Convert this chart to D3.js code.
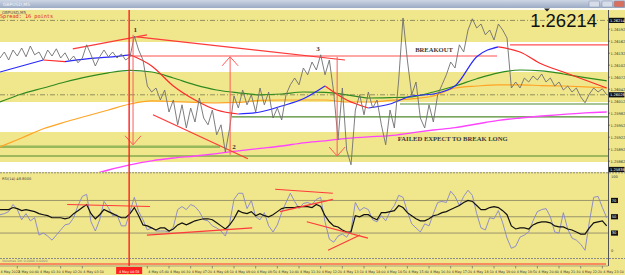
<!DOCTYPE html>
<html><head><meta charset="utf-8">
<script src="https://cdn.jsdelivr.net/npm/d3@7"></script>
<style>body{margin:0;background:#fff}svg{display:block}</style>
</head><body>
<script>
// ---------- DATA ----------
// GBPUSD M5 closes, sampled every 10 minutes from 4 May 00:00
const closeStep = 10;
const close = [
1.26120,1.26135,1.26115,1.26140,1.26125,1.26145,1.26123,1.26150,1.26128,1.26135,
1.26115,1.26140,1.26125,1.26143,1.26120,1.26133,1.26113,1.26125,1.26108,1.26120,
1.26153,1.26128,1.26100,1.26123,1.26140,1.26123,1.26135,1.26120,1.26130,1.26115,
1.26123,1.26175,1.26140,1.26115,1.26050,1.26035,1.26045,1.26015,1.26040,1.25985,
1.26015,1.25953,1.26003,1.25945,1.25995,1.25960,1.26020,1.25970,1.25953,1.25990,
1.25928,1.25953,1.25885,1.25945,1.26025,1.25995,1.26040,1.26003,1.26028,1.25985,
1.26045,1.26003,1.26035,1.25970,1.25995,1.25965,1.26028,1.26053,1.26070,1.26053,
1.26095,1.26078,1.26110,1.26090,1.26128,1.26078,1.26115,1.26035,1.25915,1.26045,
1.25890,1.25853,1.25990,1.26028,1.25978,1.26035,1.25995,1.26015,1.25953,1.25903,
1.25990,1.25945,1.26065,1.26220,1.26115,1.26028,1.26060,1.25970,1.25945,1.26003,
1.25960,1.26028,1.26053,1.26078,1.26110,1.26095,1.26153,1.26135,1.26190,1.26218,
1.26195,1.26205,1.26178,1.26190,1.26165,1.26205,1.26190,1.26170,1.26045,1.26060,
1.26045,1.26070,1.26060,1.26075,1.26065,1.26080,1.26060,1.26070,1.26050,1.26060,
1.26040,1.26050,1.26035,1.26045,1.26023,1.26008,1.26030,1.26045,1.26035,1.26043,
1.26028];
// moving averages sampled every 50 minutes from 00:00
const maStep = 50;
const maFast = [1.26085,1.26100,1.26115,1.26111,1.26118,1.26122,1.26128,1.26100,1.26050,1.26015,
1.25990,1.25980,1.25985,1.26000,1.26018,1.26050,1.26015,1.25995,1.26005,1.26025,
1.26030,1.26050,1.26123,1.26148,1.26135,1.26105,1.26085,1.26065,1.26045];
const maGreen = [1.26010,1.26030,1.26045,1.26060,1.26073,1.26083,1.26089,1.26085,1.26070,1.26053,
1.26040,1.26033,1.26028,1.26030,1.26035,1.26034,1.26028,1.26020,1.26021,1.26023,
1.26035,1.26050,1.26068,1.26083,1.26090,1.26088,1.26080,1.26071,1.26063];
const maOrange = [1.25898,1.25920,1.25943,1.25960,1.25975,1.25990,1.26005,1.26013,1.26011,1.26009,
1.26008,1.26009,1.26014,1.26015,1.26015,1.26015,1.26010,1.26010,1.26014,1.26018,
1.26025,1.26045,1.26050,1.26053,1.26053,1.26051,1.26050,1.26048,1.26045];
const maMagenta = [null,null,null,null,1.25825,1.25840,1.25853,1.25863,1.25870,1.25875,
1.25881,1.25888,1.25894,1.25900,1.25908,1.25913,1.25919,1.25923,1.25926,1.25933,
1.25940,1.25946,1.25955,1.25964,1.25970,1.25975,1.25979,1.25983,1.25985];
// RSI (fast, blue) and smoothed (black), every 10 minutes
const rsiFast = [52.5,53.8,56.3,65,58.8,46.3,53.8,45,48.8,27.5,
30,26.3,21.3,27.5,33.8,40,41.3,48.8,63.8,75,
77.5,43.8,32.5,46.3,68.8,61.3,51.3,52.5,38.8,38.8,
56.3,73.8,56.3,46.3,33.8,36.3,32.5,32.5,32.5,31.3,
37.5,58.8,62.5,58.8,65,62.5,56.3,46.3,45,38.8,
36.3,32.5,26.3,42.5,71.3,78.8,78.8,60,70,50,
46.3,55,38.8,31.3,40,55,67.5,78.8,68.8,60,
66.3,67.5,65,71.3,73.8,43.8,22.5,18.8,26.3,28.8,
25,33.8,67.5,57.5,61.3,58.8,46.3,43.8,51.3,45,
56.3,63.8,76.3,73.8,56.3,41.3,36.3,31.3,41.3,38.8,
53.8,67.5,68.8,67.5,81.3,75,63.8,75,82.5,76.3,
53.8,36.3,33.8,48.8,47.5,57.5,42.5,23.8,11.3,13.8,
25,27.5,31.3,45,56.3,58.8,60,50,31.3,30,
55,35,23.8,21.3,16.3,8.8,43.8,73.8,75,61.3,
48.8];
const rsiSlow = [58.8,58.8,58.8,61.3,60,57.5,58.8,57.5,56.3,53.8,
52.5,51.3,48.8,48.8,48.8,47.5,48.8,53.8,57.5,61.3,
65,53.8,47.5,52.5,58.8,56.3,53.8,51.3,48.8,48.8,
53.8,61.3,51.3,40,38.8,36.3,33.8,36.3,36.3,32.5,
35,40,42.5,40,42.5,45,46.3,47.5,47.5,46.3,
42.5,38.8,35,40,47.5,57.5,55,53.8,56.3,51.3,
53.8,51.3,50,52.5,56.3,60,61.3,61.3,61.3,62.5,
62.5,62.5,61.3,65,62.5,51.3,43.8,38.8,37.5,33.8,
31.3,31.3,51.3,50,52.5,52.5,48.8,46.3,55,55,
56.3,57.5,63.8,61.3,55,51.3,47.5,45,45,47.5,
51.3,52.5,55,56.3,58.8,61.3,63.8,67.5,70,68.8,
63.8,58.8,58.8,61.3,62.5,61.3,57.5,52.5,38.8,35,
36.3,36.3,35,40,42.5,43.8,43.8,42.5,38.8,37.5,
37.5,35,33.8,31.3,28.8,28.8,36.3,42.5,43.8,45,
38.8];
const rsiLevels = [70,50,30];
// price axis
const priceTicks = [1.26192,1.26162,1.26132,1.26102,1.26072,1.26042,1.26012,1.25982,1.25952,1.25922,1.25892,1.25862];
const markedPrices = [1.26214,1.26028,1.25838];
// time axis
const timeTicks = ["00:40","01:30","02:20","03:10","05:40","06:30","07:20","08:10","09:00","09:50","10:40","11:30","12:20","13:10","14:00","14:50","15:40","16:30","17:20","18:10","19:00","19:50","20:40","21:30","22:20","23:10"];
// chart objects
const whiteBands = [[1.26160,1.26085],[1.26010,1.25935],[1.25860,1.25780]];
const dashLevels = [1.26214,1.26028];
const greenLevels = [[1.26005,"15:23"],[1.25973,"08:55"],[1.25875,"00:00"]];
const lightGreenLevel = [1.25898,"00:00","08:28"];
const redLevels = [[1.26125,"05:00","19:07"],[1.26153,"19:37","23:23"]];
const redTrends = [[["02:48",1.26143],["05:39",1.26178]],[["05:16",1.26173],["13:16",1.26115]],[["05:53",1.25978],["09:32",1.25868]]];
const arrows = [["05:07",1.26178,1.25903],["08:51",1.25878,1.26123],["12:58",1.26123,1.25875]];
const vLineTime = "04:58";
const waveLabels = [["1","05:12",1.26186],["2","09:00",1.25893],["3","12:14",1.26138]];
const textNotes = [["BREAKOUT","15:58",1.26135],["FAILED EXPECT TO BREAK LONG","15:18",1.25913]];
const rsiTrends = [[["02:35",65],["05:46",62.5]],[["05:39",27.5],["09:42",36.3]],[["10:35",83.8],["12:48",78.8]],[["10:46",56.3],["12:48",71.3]],[["11:48",43.8],["14:09",23.8]],[["12:37",8.8],["13:51",27.5]]];

// ---------- DRAW ----------
const W=625,H=275, PW=608;
const T = s=>{const [h,m]=s.split(":").map(Number);return new Date(2022,4,4,h,m);};
const Tm = m=>new Date(2022,4,4,0,m);
const x = d3.scaleTime().domain([T("00:00"),T("23:23")]).range([0,PW]);
const y = d3.scaleLinear().domain([1.25835,1.26240]).range([172,10]);
const yr = d3.scaleLinear().domain([0,100]).range([257.5,176]);
const AX = 3.6;  // axis font size
const TX = 3.3;  // time-axis font size
const svg = d3.select("body").append("svg").attr("width",W).attr("height",H)
  .style("font-family","'DejaVu Sans',sans-serif");
const defs = svg.append("defs");
const g1 = defs.append("linearGradient").attr("id","tb").attr("x1",0).attr("x2",0).attr("y1",0).attr("y2",1);
g1.append("stop").attr("offset","0%").attr("stop-color","#cdd6e4");
g1.append("stop").attr("offset","100%").attr("stop-color","#9cabc4");
defs.append("clipPath").attr("id","cm").append("rect").attr("x",0).attr("y",10).attr("width",PW).attr("height",162);
defs.append("clipPath").attr("id","ci").append("rect").attr("x",0).attr("y",174).attr("width",PW).attr("height",84);

svg.append("rect").attr("width",W).attr("height",H).attr("fill","#f0e68c");
// title bar
svg.append("rect").attr("width",W).attr("height",8).attr("fill","url(#tb)");
svg.append("rect").attr("y",8).attr("width",W).attr("height",2).attr("fill","#fbfbf2");
svg.append("text").attr("x",3).attr("y",6).attr("font-size",4.5).attr("fill","#f4f6fa").text("GBPUSD,M5");
[[589,"#d6dde9"],[602,"#d6dde9"],[614,"#d9705e"]].forEach(([bx,c])=>{
  svg.append("rect").attr("x",bx).attr("y",1).attr("width",10.5).attr("height",6).attr("rx",1).attr("fill",c).attr("stroke","#7f8ea8").attr("stroke-width",0.5);
});

const main = svg.append("g").attr("clip-path","url(#cm)");
whiteBands.forEach(b=>main.append("rect").attr("x",0).attr("width",PW).attr("y",y(b[0])).attr("height",y(b[1])-y(b[0])).attr("fill","#ffffff"));

// horizontal levels
dashLevels.forEach(p=>main.append("line").attr("x1",0).attr("x2",PW).attr("y1",y(p)).attr("y2",y(p))
  .attr("stroke","#7a7a50").attr("stroke-width",0.8).attr("stroke-dasharray","5,2,1,2"));
main.append("line").attr("x1",x(T(lightGreenLevel[1]))).attr("x2",x(T(lightGreenLevel[2])))
  .attr("y1",y(lightGreenLevel[0])).attr("y2",y(lightGreenLevel[0])).attr("stroke","#97b85a").attr("stroke-width",2.5);
greenLevels.forEach(([p,t])=>main.append("line").attr("x1",x(T(t))).attr("x2",PW).attr("y1",y(p)).attr("y2",y(p))
  .attr("stroke","#4f8a2c").attr("stroke-width",1.2));
redLevels.forEach(([p,a,b])=>main.append("line").attr("x1",x(T(a))).attr("x2",x(T(b))).attr("y1",y(p)).attr("y2",y(p))
  .attr("stroke","#ff5050").attr("stroke-width",1.2));

// moving averages
const maLine = d3.line().defined(d=>d!=null).x((d,i)=>x(Tm(i*maStep))).y(d=>y(d)).curve(d3.curveMonotoneX);
main.append("path").attr("d",maLine(maMagenta)).attr("fill","none").attr("stroke","#ff44ff").attr("stroke-width",1.3);
main.append("path").attr("d",maLine(maOrange)).attr("fill","none").attr("stroke","#ffa424").attr("stroke-width",1.2);
main.append("path").attr("d",maLine(maGreen)).attr("fill","none").attr("stroke","#2f8a1f").attr("stroke-width",1.2);
// fast MA coloured by direction
(function(){
  let runs=[],cur=[0],dir=null;
  for(let i=1;i<maFast.length;i++){
    const d = maFast[i]>=maFast[i-1]?"up":"down";
    if(dir && d!==dir){runs.push({dir,idx:cur});cur=[i-1];}
    dir=d;cur.push(i);
  }
  runs.push({dir,idx:cur});
  const ln = d3.line().x(i=>x(Tm(i*maStep))).y(i=>y(maFast[i])).curve(d3.curveMonotoneX);
  runs.forEach(r=>main.append("path").attr("d",ln(r.idx)).attr("fill","none")
    .attr("stroke",r.dir==="up"?"#2828ff":"#ff2a2a").attr("stroke-width",1.2));
})();

// trend lines
redTrends.forEach(l=>main.append("line").attr("x1",x(T(l[0][0]))).attr("y1",y(l[0][1])).attr("x2",x(T(l[1][0]))).attr("y2",y(l[1][1]))
  .attr("stroke","#ff3a3a").attr("stroke-width",1.2));

// price
main.append("path").attr("d",d3.line().x((d,i)=>x(Tm(i*closeStep))).y(d=>y(d))(close))
  .attr("fill","none").attr("stroke","#6f6f6f").attr("stroke-width",0.9);

// arrows
arrows.forEach(([t,p0,p1])=>{
  const ax=x(T(t)), y0=y(p0), y1=y(p1), s=y1>y0?-1:1;
  main.append("path").attr("d",`M${ax},${y0}L${ax},${y1}M${ax-8},${y1+s*9}L${ax},${y1}L${ax+8},${y1+s*9}`)
    .attr("fill","none").attr("stroke","#ff5a5a").attr("stroke-width",1);
});

// text annotations
waveLabels.forEach(([s,t,p])=>main.append("text").attr("x",x(T(t))).attr("y",y(p)).attr("text-anchor","middle")
  .attr("font-size",7).attr("font-weight","bold").attr("font-family","'Liberation Serif',serif").attr("fill","#333").text(s));
textNotes.forEach(([s,t,p])=>main.append("text").attr("x",x(T(t))).attr("y",y(p))
  .attr("font-size",6.6).attr("font-weight","bold").attr("font-family","'Liberation Serif',serif").attr("fill","#3a3a3a").text(s));

// top-left info
svg.append("text").attr("x",2).attr("y",13.5).attr("font-size",4).attr("fill","#555").text("GBPUSD,M5");
svg.append("text").attr("x",0).attr("y",18).attr("font-size",5.2).attr("font-family","'DejaVu Sans Mono',monospace").attr("fill","#e02020").text("Spread: 16 points");
svg.append("text").attr("x",597).attr("y",26.5).attr("text-anchor","end").attr("font-size",18.5).attr("font-family","'Liberation Sans',Arial,sans-serif").attr("fill","#111").text(d3.format(".5f")(dashLevels[0]));
svg.append("path").attr("d","M544,8.5L550,8.5L547,11.5Z").attr("fill","#222");

// separators
svg.append("line").attr("x1",0).attr("x2",W).attr("y1",172.8).attr("y2",172.8).attr("stroke","#8a8a8a").attr("stroke-dasharray","2,1");
svg.append("line").attr("x1",0).attr("x2",W).attr("y1",258.5).attr("y2",258.5).attr("stroke","#8a8a8a").attr("stroke-dasharray","2,1");

// indicator window
const ind = svg.append("g").attr("clip-path","url(#ci)");
rsiLevels.forEach(v=>ind.append("line").attr("x1",0).attr("x2",PW).attr("y1",yr(v)).attr("y2",yr(v)).attr("stroke","#99946a").attr("stroke-width",1));
ind.append("path").attr("d",d3.line().x((d,i)=>x(Tm(i*closeStep))).y(d=>yr(d))(rsiFast)).attr("fill","none").attr("stroke","#8484cc").attr("stroke-width",0.9);
ind.append("path").attr("d",d3.line().x((d,i)=>x(Tm(i*closeStep))).y(d=>yr(d))(rsiSlow)).attr("fill","none").attr("stroke","#111").attr("stroke-width",1.2);
rsiTrends.forEach(l=>ind.append("line").attr("x1",x(T(l[0][0]))).attr("y1",yr(l[0][1])).attr("x2",x(T(l[1][0]))).attr("y2",yr(l[1][1]))
  .attr("stroke","#ff3a3a").attr("stroke-width",1.1));
svg.append("text").attr("x",2).attr("y",179.5).attr("font-size",AX).attr("fill","#444").text("RSI(14) "+d3.format(".4f")(rsiFast[rsiFast.length-1]));

// bottom strip
svg.append("text").attr("x",2).attr("y",262).attr("font-size",3.3).attr("fill","#777").text("Volumes 1m  0.0000  0.0000");
svg.append("line").attr("x1",0).attr("x2",606).attr("y1",264).attr("y2",264).attr("stroke","#ff3030").attr("stroke-width",1);

// vertical red line
svg.append("line").attr("x1",x(T(vLineTime))).attr("x2",x(T(vLineTime))).attr("y1",10).attr("y2",266).attr("stroke","#ff2020").attr("stroke-width",1.4);

// right axis
svg.append("line").attr("x1",PW+0.5).attr("x2",PW+0.5).attr("y1",10).attr("y2",266).attr("stroke","#555").attr("stroke-width",1);
priceTicks.forEach(p=>{
  svg.append("line").attr("x1",PW).attr("x2",PW+2).attr("y1",y(p)).attr("y2",y(p)).attr("stroke","#444").attr("stroke-width",0.6);
  svg.append("text").attr("x",PW+2.5).attr("y",y(p)+1.3).attr("font-size",AX).attr("fill","#333").text(d3.format(".5f")(p));
});
markedPrices.forEach(p=>{
  const yy=Math.min(y(p),169.5);
  svg.append("rect").attr("x",PW+1).attr("y",yy-2.6).attr("width",15.5).attr("height",5.2).attr("fill","#111");
  svg.append("text").attr("x",PW+2).attr("y",yy+1.3).attr("font-size",AX).attr("fill","#fff").text(d3.format(".5f")(p));
});
svg.append("text").attr("x",PW+3).attr("y",yr(100)+1.5).attr("font-size",AX).attr("fill","#333").text("100");
svg.append("text").attr("x",PW+3).attr("y",yr(0)-6).attr("font-size",AX).attr("fill","#333").text("0");
rsiLevels.forEach(v=>{
  svg.append("rect").attr("x",PW+3).attr("y",yr(v)-2.6).attr("width",7).attr("height",5.2).attr("fill","#111");
  svg.append("text").attr("x",PW+3.8).attr("y",yr(v)+1.3).attr("font-size",AX).attr("fill","#fff").text(v);
});

// time axis
svg.append("line").attr("x1",0).attr("x2",PW).attr("y1",266).attr("y2",266).attr("stroke","#777").attr("stroke-width",0.6);
svg.append("text").attr("x",0.5).attr("y",272.5).attr("font-size",TX).attr("fill","#333").text("4 May 2022");
timeTicks.forEach(t=>{
  const tx=x(T(t));
  svg.append("line").attr("x1",tx).attr("x2",tx).attr("y1",266).attr("y2",268.5).attr("stroke","#555").attr("stroke-width",0.6);
  svg.append("text").attr("x",tx+1).attr("y",272.5).attr("font-size",TX).attr("fill","#333").text("4 May "+t);
});
const vx=x(T(vLineTime));
svg.append("rect").attr("x",vx-13).attr("y",267).attr("width",26).attr("height",7).attr("fill","#ff2020");
svg.append("text").attr("x",vx).attr("y",272.5).attr("text-anchor","middle").attr("font-size",TX).attr("fill","#fff").text("4 May "+vLineTime);
</script>
</body></html>
